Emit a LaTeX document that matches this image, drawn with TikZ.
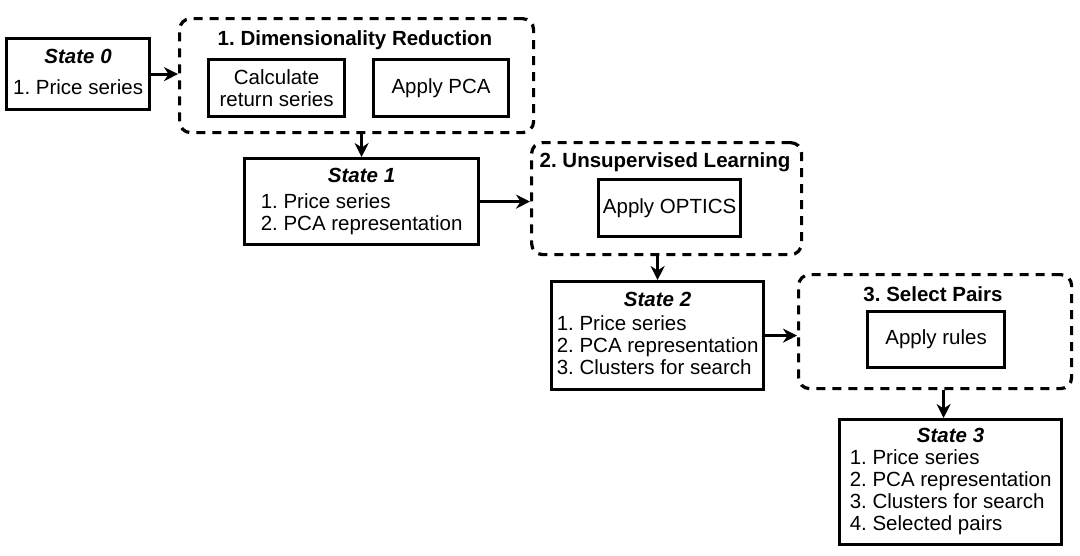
\documentclass[tikz,border=0pt]{standalone}
\usepackage{fontspec}
\setmainfont{Liberation Sans}
\usetikzlibrary{arrows.meta,calc}
\frenchspacing
\newcommand{\stitle}[1]{\multicolumn{1}{c}{\bfseries\itshape #1}}
\tikzset{
  solidbox/.style={draw, line width=3.2pt, inner sep=2pt, anchor=north west,
    font=\fontsize{20.5}{22}\selectfont\frenchspacing, align=center},
  groupbox/.style={draw, line width=3.2pt, dash pattern=on 9pt off 7pt,
    rounded corners=11pt, anchor=north west, inner sep=0pt},
  grouptitle/.style={font=\fontsize{20.5}{22}\selectfont\bfseries\frenchspacing, inner sep=0pt},
  arr/.style={line width=3pt, -{Stealth[length=14pt,width=14pt]}}
}
\begin{document}
\begin{tikzpicture}[x=1pt,y=-1pt]
\useasboundingbox (0,0) rectangle (1080,555);
% State 0
\node[solidbox, minimum width=143pt, minimum height=71pt] (s0) at (5,37)
  {\begin{tabular}{@{}l@{}}\stitle{State 0}\\[9pt] 1. Price series\end{tabular}};
% Group 1
\node[groupbox, minimum width=354pt, minimum height=114pt] (g1) at (178,17) {};
\node[grouptitle] (t1) at (355,40) {1. Dimensionality Reduction};
\node[solidbox, minimum width=136pt, minimum height=57pt] (calc) at (207,58)
  {Calculate\\return series};
\node[solidbox, minimum width=135pt, minimum height=57pt] (pca) at (372,58)
  {Apply PCA};
% State 1
\node[solidbox, minimum width=234pt, minimum height=86pt] (s1) at (243,157)
  {\begin{tabular}{@{}l@{}}\stitle{State 1}\\[4pt] 1. Price series\\ 2. PCA representation\end{tabular}};
% Group 2
\node[groupbox, minimum width=270pt, minimum height=112pt] (g2) at (530,141) {};
\node[grouptitle] (t2) at (665,162) {2. Unsupervised Learning};
\node[solidbox, minimum width=142pt, minimum height=57pt] (optics) at (597,178)
  {Apply OPTICS};
% State 2
\node[solidbox, minimum width=212pt, minimum height=108pt] (s2) at (550,280)
  {\begin{tabular}{@{}l@{}}\stitle{State 2}\\[2pt] 1. Price series\\ 2. PCA representation\\ 3. Clusters for search\end{tabular}};
% Group 3
\node[groupbox, minimum width=273pt, minimum height=114pt] (g3) at (797,273) {};
\node[grouptitle] (t3) at (933,294) {3. Select Pairs};
\node[solidbox, minimum width=137pt, minimum height=56pt] (rules) at (866,310)
  {Apply rules};
% State 3
\node[solidbox, minimum width=222pt, minimum height=125pt] (s3) at (838,418)
  {\begin{tabular}{@{}l@{}}\stitle{State 3}\\ 1. Price series\\ 2. PCA representation\\ 3. Clusters for search\\ 4. Selected pairs\end{tabular}};
% connectors
\draw[arr] (s0.east) -- (s0.east -| g1.west);
\draw[arr] (s1.north |- g1.south) -- (s1.north);
\draw[arr] (s1.east) -- (s1.east -| g2.west);
\draw[arr] (s2.north |- g2.south) -- (s2.north);
\draw[arr] (s2.east) -- (s2.east -| g3.west);
\draw[arr] ([xshift=-7pt]s3.north |- g3.south) -- ([xshift=-7pt]s3.north);
\end{tikzpicture}
\end{document}
